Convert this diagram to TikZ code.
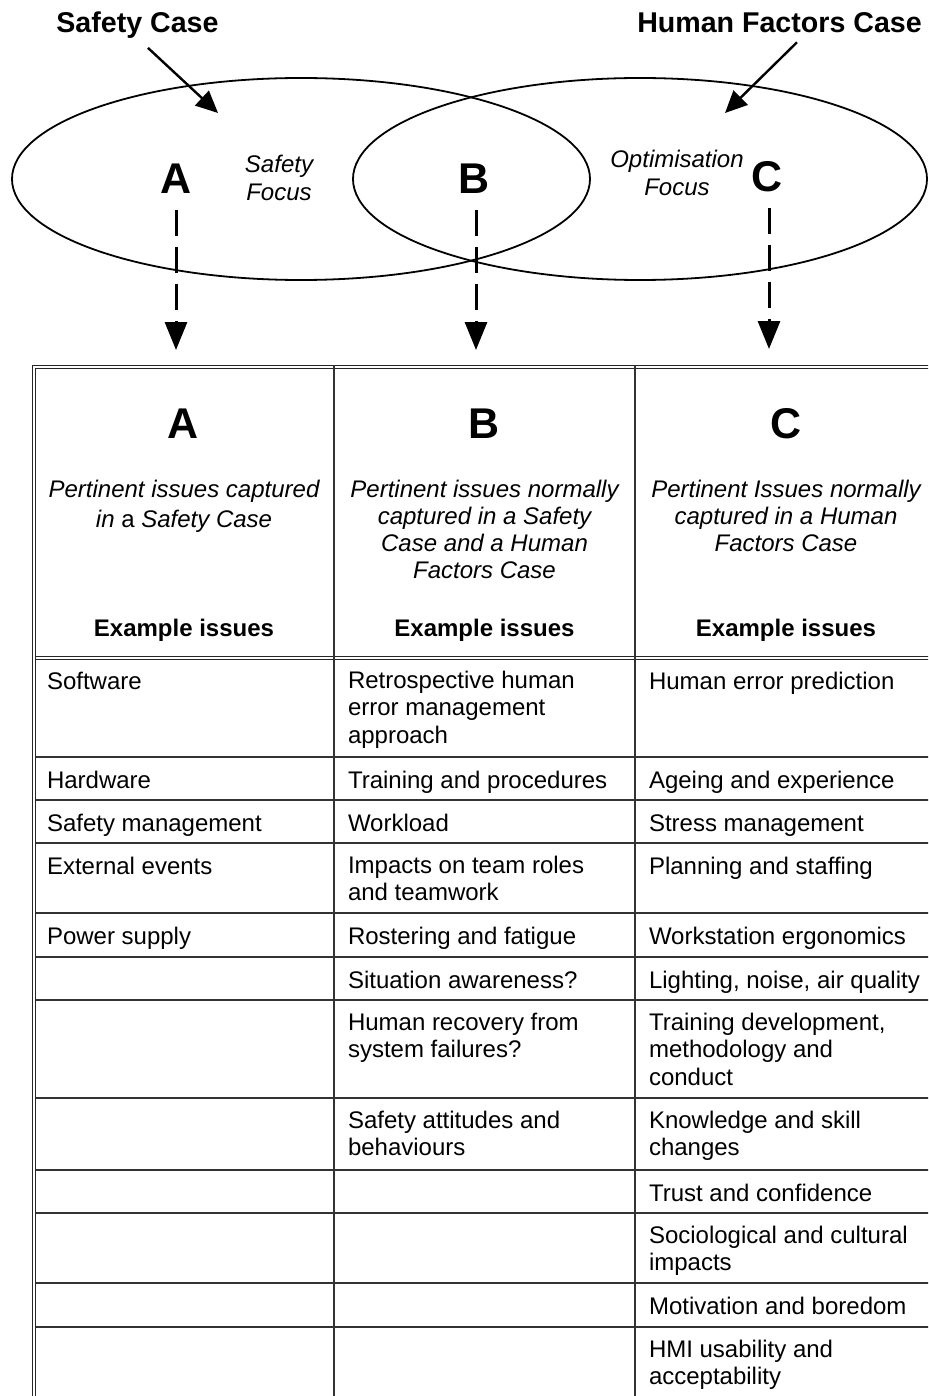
\documentclass[tikz,border=0pt]{standalone}
\usepackage{fontspec}
\setmainfont{Liberation Sans}
\usetikzlibrary{arrows.meta,shapes.geometric}

\begin{document}
\begin{tikzpicture}[x=1pt,y=-1pt,
  every node/.style={inner sep=0pt, outer sep=0pt},
  casetitle/.style={font=\fontsize{28.6}{32}\selectfont\bfseries, anchor=base},
  bigletter/.style={font=\fontsize{43}{48}\selectfont\bfseries, anchor=base},
  focus/.style={font=\fontsize{24}{28}\selectfont\itshape, align=center, anchor=north, execute at begin node=\strut},
  setring/.style={draw, ellipse, line width=1.8pt},
  casearrow/.style={line width=2.4pt, -{Triangle[length=22pt,width=20pt]}},
  droparrow/.style={line width=3pt, dash pattern=on 26pt off 11pt, -{Triangle[length=28pt,width=22pt]}},
  frameline/.style={line width=0.9pt, draw=black!85},
  gridline/.style={line width=1.3pt, draw=black!80},
  headcell/.style={font=\fontsize{24}{27.2}\selectfont\itshape, align=center, anchor=north, execute at begin node=\strut},
  headbold/.style={font=\fontsize{24}{28}\selectfont\bfseries, anchor=base},
  cell/.style={font=\fontsize{24}{27.6}\selectfont, align=left, anchor=north west, execute at begin node=\strut},
]
\useasboundingbox (0,0) rectangle (928,1396);
\clip (0,0) rectangle (928,1396);

% ---- the two overlapping sets ----
\node[setring, minimum width=578pt, minimum height=202pt] (safetyset) at (301,179) {};
\node[setring, minimum width=574pt, minimum height=202pt] (hfset) at (640,179) {};

\node[casetitle] (sc) at (137.5,33) {Safety Case};
\node[casetitle] (hfc) at (779.5,33) {Human Factors Case};
\coordinate (scTip) at (218,113);
\coordinate (hfTip) at (725,113);
\draw[casearrow] ([shift={(10.5,9)}]sc.south) -- (scTip);
\draw[casearrow] ([shift={(17.5,9)}]hfc.south) -- (hfTip);

\node[bigletter] (A) at (176,194) {A};
\node[bigletter] (B) at (474,194) {B};
\node[bigletter] (C) at (767,192) {C};

\node[focus] (sf) at (279,155) {Safety\\Focus};
\node[focus] (of) at (677,150.5) {Optimisation\\Focus};

% ---- dashed drops into the table ----
\coordinate (tA) at (176,350);
\coordinate (tB) at (476,350);
\coordinate (tC) at (769,349);
\draw[droparrow] ([shift={(0,16)}]A.south) -- (tA);
\draw[droparrow] ([shift={(2,16)}]B.south) -- (tB);
\draw[droparrow] ([shift={(2,16)}]C.south) -- (tC);

% ---- table frame ----
\draw[frameline] (32.5,1400) -- (32.5,365) -- (940,365);
\draw[frameline] (35.5,1400) -- (35.5,368.5) -- (940,368.5);
\draw[frameline] (35.5,656) -- (940,656);
\draw[frameline] (35.5,659.5) -- (940,659.5);
\draw[gridline] (334,365) -- (334,1400);
\draw[gridline] (635,365) -- (635,1400);
\foreach \y in {757,800,843,913,957,1000,1098,1170,1213,1283,1327}
  \draw[gridline] (35.5,\y) -- (940,\y);

% ---- header cells ----
\node[bigletter] (hA) at (183.5,438) {A};
\node[bigletter] (hB) at (484.5,438) {B};
\node[bigletter] (hC) at (786,438) {C};
\node[headcell] (dA) at (184,480) {Pertinent issues captured\\[2.6pt]in \textup{a} Safety Case};
\node[headcell] (dB) at (484.5,480) {Pertinent issues normally\\captured in a Safety\\Case and a Human\\Factors Case};
\node[headcell] (dC) at (786,480) {Pertinent Issues normally\\captured in a Human\\Factors Case};
\node[headbold] (eA) at (184,636.7) {Example issues};
\node[headbold] (eB) at (484.5,636.7) {Example issues};
\node[headbold] (eC) at (786,636.7) {Example issues};

% ---- body cells ----
\node[cell] (a1) at (47,670.2) {Software};
\node[cell] (b1) at (348,670.7) {Retrospective human\\error management\\approach};
\node[cell] (c1) at (649,670.2) {Human error prediction};

\node[cell] (a2) at (47,769.2) {Hardware};
\node[cell] (b2) at (348,769.2) {Training and procedures};
\node[cell] (c2) at (649,769.2) {Ageing and experience};

\node[cell] (a3) at (47,812.2) {Safety management};
\node[cell] (b3) at (348,812.2) {Workload};
\node[cell] (c3) at (649,812.2) {Stress management};

\node[cell] (a4) at (47,855.2) {External events};
\node[cell] (b4) at (348,855.7) {Impacts on team roles\\and teamwork};
\node[cell] (c4) at (649,855.2) {Planning and staffing};

\node[cell] (a5) at (47,925.2) {Power supply};
\node[cell] (b5) at (348,925.2) {Rostering and fatigue};
\node[cell] (c5) at (649,925.2) {Workstation ergonomics};

\node[cell] (b6) at (348,969.2) {Situation awareness?};
\node[cell] (c6) at (649,969.2) {Lighting, noise, air quality};

\node[cell] (b7) at (348,1012.7) {Human recovery from\\system failures?};
\node[cell] (c7) at (649,1012.7) {Training development,\\methodology and\\conduct};

\node[cell] (b8) at (348,1110.7) {Safety attitudes and\\behaviours};
\node[cell] (c8) at (649,1110.7) {Knowledge and skill\\changes};

\node[cell] (c9) at (649,1182.2) {Trust and confidence};
\node[cell] (c10) at (649,1225.7) {Sociological and cultural\\impacts};
\node[cell] (c11) at (649,1295.2) {Motivation and boredom};
\node[cell] (c12) at (649,1339.7) {HMI usability and\\acceptability};
\end{tikzpicture}
\end{document}
